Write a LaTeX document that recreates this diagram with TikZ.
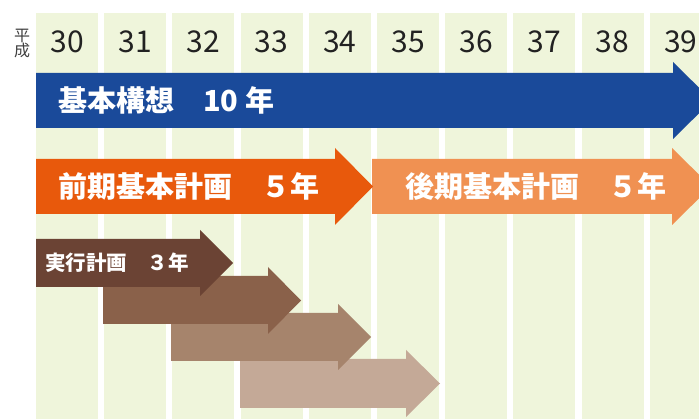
\documentclass[tikz,border=0pt]{standalone}
\usepackage{fontspec}
\newfontfamily\cjk{Noto Sans CJK JP}
\definecolor{colbg}{HTML}{EFF5DB}
\definecolor{cblue}{HTML}{1A4A9A}
\definecolor{corange}{HTML}{E8590C}
\definecolor{clorange}{HTML}{F09152}
\definecolor{cbrowna}{HTML}{6B4334}
\definecolor{cbrownb}{HTML}{8A614A}
\definecolor{cbrownc}{HTML}{A6846C}
\definecolor{cbrownd}{HTML}{C4A997}
\definecolor{cyear}{HTML}{222222}
\tikzset{
  colbox/.style={fill=colbg, draw=none},
  yearlbl/.style={font=\cjk\fontsize{30}{30}\selectfont, text=cyear, inner sep=0pt},
  biglbl/.style={font=\cjk\bfseries\fontsize{29}{29}\selectfont, text=white, inner sep=0pt, anchor=west},
  smalllbl/.style={font=\cjk\bfseries\fontsize{20.5}{20.5}\selectfont, text=white, inner sep=0pt, anchor=west},
  eralbl/.style={font=\cjk\fontsize{16}{16}\selectfont, text=black!75, inner sep=0pt, align=center}
}
% #1 colour, #2 x start, #3 body end, #4 body top, #5 body bottom, #6 head top, #7 head bottom, #8 tip
\newcommand{\myarrow}[8]{%
  \fill[#1] (#2,#4) -- (#3,#4) -- (#3,#6) -- (#8,{(#6+#7)/2}) -- (#3,#7) -- (#3,#5) -- (#2,#5) -- cycle;}
\begin{document}
\begin{tikzpicture}[x=1pt,y=-1pt]
\useasboundingbox (0,0) rectangle (699,419);
\clip (0,0) rectangle (699,419);
\fill[white] (0,0) rectangle (699,419);
% columns
\foreach \i/\yr in {0/30,1/31,2/32,3/33,4/34,5/35,6/36,7/37,8/38,9/39} {
  \pgfmathsetmacro{\xl}{36+68.2*\i}
  \fill[colbox] (\xl,13) rectangle ({\xl+62},419);
  \node[yearlbl] (y\yr) at ({\xl+31},42) {\yr};
}
\node[eralbl] (era) at (22,44) {平\\[-1pt]成};
% blue arrow
\myarrow{cblue}{36}{673}{73}{128}{62}{139}{712}
\node[biglbl] (kihon) at (58,100.5) {基本構想　10 年};
% light orange arrow
\myarrow{clorange}{372}{672}{159}{214}{148}{225}{711}
\node[biglbl] (kouki) at (405,186.5) {後期基本計画　５年};
% orange arrow
\myarrow{corange}{36}{335}{159}{214}{148}{225}{373}
\node[biglbl] (zenki) at (58,186.5) {前期基本計画　５年};
% brown arrows
\myarrow{cbrownd}{240}{406}{359}{408}{350}{417}{440}
\myarrow{cbrownc}{171}{338}{313}{361}{304}{370}{371}
\myarrow{cbrownb}{103}{268}{276}{324}{267}{334}{301}
\myarrow{cbrowna}{36}{200}{239}{287}{230}{296}{233}
\node[smalllbl] (jikkou) at (45,263) {実行計画　３年};
\end{tikzpicture}
\end{document}
